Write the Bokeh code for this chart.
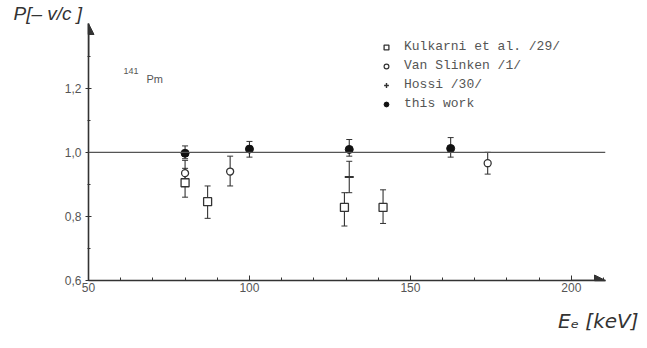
from bokeh.plotting import figure
from bokeh.models import (ColumnDataSource, Whisker, Span, Label, Arrow, NormalHead, Title,
                          FixedTicker, CustomJSTickFormatter, Legend, LegendItem, Range1d)
from bokeh.embed import file_html
from bokeh.resources import INLINE

# ---- data ----
kul_x = [80, 87, 129.5, 141.5]
kul_y = [0.905, 0.846, 0.828, 0.828]
kul_lo = [0.86, 0.794, 0.77, 0.778]
kul_hi = [0.95, 0.895, 0.874, 0.883]

vs_x = [80, 94, 174]
vs_y = [0.935, 0.94, 0.966]
vs_lo = [0.895, 0.895, 0.932]
vs_hi = [0.975, 0.988, 1.0]

ho_x = [131]
ho_y = [0.923]
ho_lo = [0.874]
ho_hi = [0.972]

tw_x = [80, 100, 131, 162.5]
tw_y = [0.997, 1.01, 1.009, 1.012]
tw_lo = [0.98, 0.985, 0.988, 0.985]
tw_hi = [1.02, 1.034, 1.04, 1.046]

x_ticks = [50, 100, 150, 200]
x_minor = list(range(50, 211, 10))
y_ticks = [0.6, 0.8, 1.0, 1.2]
y_minor = [0.6, 0.7, 0.8, 0.9, 1.0, 1.1, 1.2, 1.3]

INK = "#333333"

p = figure(width=640, height=344, output_backend="svg", toolbar_location=None,
           x_range=Range1d(50, 210.6), y_range=Range1d(0.6, 1.402),
           min_border_left=88, min_border_right=35, min_border_top=20, min_border_bottom=62)
p.outline_line_color = None
p.grid.visible = False
p.background_fill_color = "white"

for ax in (p.xaxis[0], p.yaxis[0]):
    ax.axis_line_color = INK
    ax.axis_line_width = 1.6
    ax.major_tick_line_color = INK
    ax.minor_tick_line_color = INK
    ax.major_label_text_font = "Liberation Sans"
    ax.major_label_text_font_size = "12px"
    ax.major_label_text_color = "#555555"

p.xaxis.ticker = FixedTicker(ticks=x_ticks, minor_ticks=x_minor)
p.xaxis.major_tick_in = 5
p.xaxis.major_tick_out = 0
p.xaxis.minor_tick_in = 3
p.xaxis.minor_tick_out = 0
p.xaxis.major_label_standoff = 2

p.yaxis.ticker = FixedTicker(ticks=y_ticks, minor_ticks=y_minor)
p.yaxis.formatter = CustomJSTickFormatter(code="return tick.toFixed(1).replace('.', ',');")
p.yaxis.major_tick_in = 3
p.yaxis.major_tick_out = 3
p.yaxis.minor_tick_in = 2
p.yaxis.minor_tick_out = 1
p.yaxis.major_label_standoff = 4

# axis titles as Title objects in the side panels
p.add_layout(Title(text="P[– v/c ]", align="left", offset=-75, standoff=0,
                   text_font="Liberation Sans", text_font_style="italic",
                   text_font_size="19px", text_color=INK), "above")
p.add_layout(Title(text="Eₑ [keV]", align="right", offset=-33, standoff=24,
                   text_font="DejaVu Sans", text_font_style="italic",
                   text_font_size="20px", text_color=INK), "below")

# reference line at 1.0
p.add_layout(Span(location=1.0, dimension="width", line_color="#555555", line_width=1.2))

# axis arrows
p.add_layout(Arrow(end=NormalHead(size=11, fill_color=INK, line_color=INK),
                   x_start=200, y_start=0.6, x_end=210.6, y_end=0.6,
                   line_color=INK, line_width=1.6))
p.add_layout(Arrow(end=NormalHead(size=11, fill_color=INK, line_color=INK),
                   x_start=50, y_start=1.3, x_end=50, y_end=1.402,
                   line_color=INK, line_width=1.6))

def errbars(xs, lo, hi):
    src = ColumnDataSource(dict(x=xs, lo=lo, hi=hi))
    w = Whisker(source=src, base="x", lower="lo", upper="hi", dimension="height",
                line_color=INK, line_width=1.1)
    w.upper_head.size = 6
    w.lower_head.size = 6
    w.upper_head.line_color = INK
    w.lower_head.line_color = INK
    p.add_layout(w)

errbars(kul_x, kul_lo, kul_hi)
errbars(vs_x, vs_lo, vs_hi)
errbars(ho_x, ho_lo, ho_hi)
errbars(tw_x, tw_lo, tw_hi)

r_kul = p.scatter(kul_x, kul_y, marker="square", size=8, fill_color="white",
                  line_color=INK, line_width=1.3)
r_vs = p.scatter(vs_x, vs_y, marker="circle", size=7, fill_color="white",
                 line_color=INK, line_width=1.3)
r_ho = p.scatter(ho_x, ho_y, marker="dash", size=9, line_color=INK, line_width=1.8)
r_tw = p.scatter(tw_x, tw_y, marker="circle", size=8, fill_color="#111111",
                 line_color="#111111")

# legend glyph renderers (single point outside the visible range, shapes only for the legend)
l_kul = p.scatter([0], [0], marker="square", size=7, fill_color="white", line_color=INK, line_width=1.3)
l_vs = p.scatter([0], [0], marker="circle", size=5, fill_color="white", line_color=INK, line_width=1.2)
l_ho = p.scatter([0], [0], marker="cross", size=10, line_color=INK, line_width=1.4)
l_tw = p.scatter([0], [0], marker="circle", size=7, fill_color="#111111", line_color="#111111")

legend = Legend(items=[LegendItem(label="Kulkarni et al. /29/", renderers=[l_kul]),
                       LegendItem(label="Van Slinken /1/", renderers=[l_vs]),
                       LegendItem(label="Hossi /30/", renderers=[l_ho]),
                       LegendItem(label="this work", renderers=[l_tw])],
                location=(292, 167), border_line_color=None, background_fill_alpha=0,
                label_text_font="Liberation Mono", label_text_font_size="13px",
                label_text_color="#555555", glyph_width=12, glyph_height=12,
                spacing=0, label_height=19, padding=4, label_standoff=12)
p.add_layout(legend, "center")

# nuclide label (screen units: x from frame left, y up from frame bottom)
p.add_layout(Label(x=35, y=210, x_units="screen", y_units="screen", text="141",
                   text_font="Liberation Sans", text_font_size="9px",
                   text_color="#555555", text_baseline="alphabetic"))
p.add_layout(Label(x=58, y=202, x_units="screen", y_units="screen", text="Pm",
                   text_font="Liberation Sans", text_font_size="11px",
                   text_color="#555555", text_baseline="alphabetic"))

open("out.html", "w").write(file_html(p, INLINE))
